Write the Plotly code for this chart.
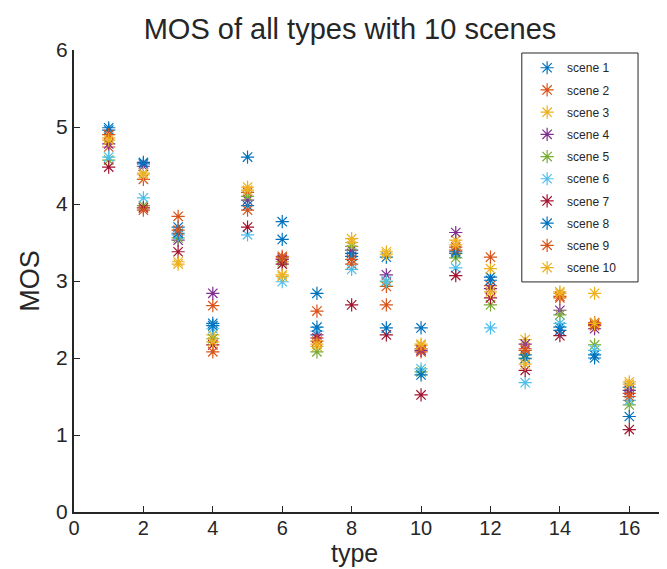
import plotly.graph_objects as go

types = list(range(1, 17))
scene_names = ["scene 1", "scene 2", "scene 3", "scene 4", "scene 5",
               "scene 6", "scene 7", "scene 8", "scene 9", "scene 10"]

scene1 = [4.99, 4.54, 3.70, 2.45, 4.61, 3.77, 2.84, 3.36, 3.31, 2.39, 3.36, 3.05, 2.04, 2.40, 2.04, 1.62]
scene2 = [4.74, 4.32, 3.84, 2.68, 4.15, 3.32, 2.61, 3.22, 2.93, 2.08, 3.40, 2.94, 2.10, 2.78, 2.46, 1.54]
scene3 = [4.86, 4.38, 3.22, 2.30, 4.22, 3.06, 2.15, 3.55, 3.38, 2.16, 3.53, 3.16, 2.24, 2.86, 2.84, 1.69]
scene4 = [4.78, 4.49, 3.53, 2.84, 4.05, 3.28, 2.30, 3.40, 3.08, 2.10, 3.63, 2.90, 2.18, 2.62, 2.38, 1.58]
scene5 = [4.57, 3.98, 3.56, 2.25, 4.10, 3.25, 2.08, 3.45, 2.99, 1.82, 3.30, 2.69, 2.00, 2.56, 2.17, 1.39]
scene6 = [4.61, 4.08, 3.60, 2.38, 3.60, 2.99, 2.35, 3.15, 3.00, 1.86, 3.17, 2.39, 1.68, 2.45, 2.10, 1.45]
scene7 = [4.48, 3.95, 3.38, 2.17, 3.70, 3.22, 2.26, 2.69, 2.30, 1.52, 3.07, 2.78, 1.84, 2.29, 2.44, 1.07]
scene8 = [4.96, 4.52, 3.62, 2.42, 3.98, 3.54, 2.40, 3.32, 2.39, 1.78, 3.38, 3.01, 1.99, 2.36, 2.00, 1.24]
scene9 = [4.90, 3.92, 3.66, 2.08, 3.92, 3.30, 2.22, 3.28, 2.69, 2.12, 3.44, 3.31, 2.12, 2.80, 2.42, 1.50]
scene10 = [4.83, 4.40, 3.25, 2.21, 4.18, 3.08, 2.18, 3.50, 3.35, 2.18, 3.47, 2.86, 1.92, 2.84, 2.45, 1.66]

series = [scene1, scene2, scene3, scene4, scene5, scene6, scene7, scene8, scene9, scene10]
colors = ["#0072BD", "#D95319", "#EDB120", "#7E2F8E", "#77AC30",
          "#4DBEEE", "#A2142F", "#0072BD", "#D95319", "#EDB120"]

fig = go.Figure()
for i, (name, vals) in enumerate(zip(scene_names, series)):
    fig.add_trace(go.Scatter(
        x=types, y=vals, mode="markers", name=name, legendgroup=name,
        marker=dict(symbol="asterisk-open", size=11, color=colors[i],
                    line=dict(color=colors[i], width=1.2)),
    ))

axis_color = "#262626"
font_family = "Liberation Sans, Arial, sans-serif"

# legend frame (MATLAB legend box, drawn over data)
fig.add_shape(type="rect", xref="paper", yref="paper",
              x0=0.759, x1=0.956, y0=0.498, y1=0.9935,
              fillcolor="white", line=dict(color=axis_color, width=1), layer="above")

fig.add_annotation(text="type", xref="paper", yref="paper", x=0.475, y=-0.122,
                   xanchor="center", yanchor="bottom", showarrow=False, borderpad=0,
                   font=dict(size=25, color=axis_color, family=font_family))
fig.add_annotation(text="MOS", xref="paper", yref="paper", x=-0.075, y=0.5,
                   xanchor="center", yanchor="middle", textangle=-90, showarrow=False,
                   font=dict(size=27, color=axis_color, family=font_family))

fig.update_layout(
    width=659, height=561,
    margin=dict(l=66, r=3, t=42, b=57),
    paper_bgcolor="white", plot_bgcolor="white",
    font=dict(family=font_family, color=axis_color),
    title=dict(text="MOS of all types with 10 scenes", xref="container", x=0.519,
               xanchor="center", y=0.962, yanchor="middle",
               font=dict(size=29, color=axis_color)),
    xaxis=dict(range=[0, 17], tickvals=[0, 2, 4, 6, 8, 10, 12, 14, 16],
               showgrid=False, zeroline=False, showline=True, linecolor=axis_color,
               linewidth=2, ticks="inside", ticklen=6, tickcolor=axis_color,
               tickfont=dict(size=20), ticklabelstandoff=-3),
    yaxis=dict(range=[0, 6], tickvals=[0, 1, 2, 3, 4, 5, 6],
               showgrid=False, zeroline=False, showline=True, linecolor=axis_color,
               linewidth=2, ticks="inside", ticklen=6, tickcolor=axis_color,
               tickfont=dict(size=21)),
    legend=dict(x=0.768, y=0.993, xanchor="left", yanchor="top",
                bgcolor="rgba(0,0,0,0)", borderwidth=0,
                font=dict(size=12, color=axis_color), tracegroupgap=3.2,
                itemwidth=30),
    showlegend=True,
)

fig.write_html("out.html")
